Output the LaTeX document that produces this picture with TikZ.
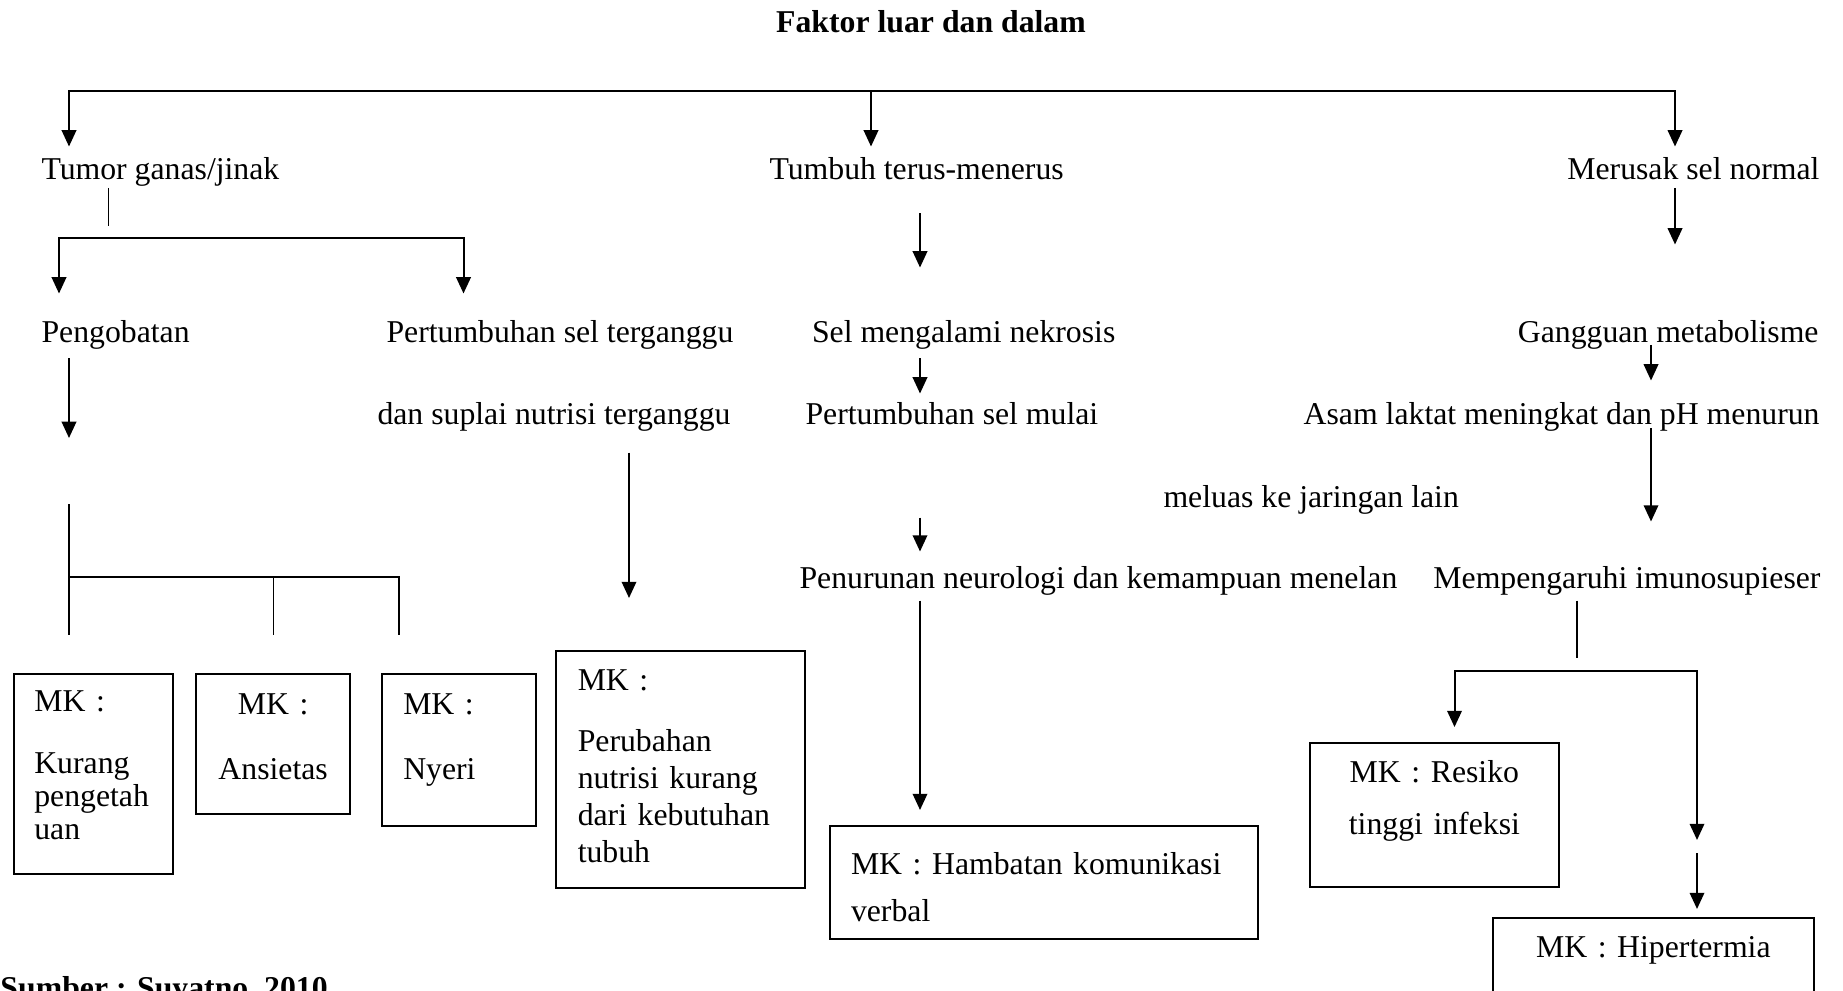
\documentclass[tikz,border=0pt]{standalone}
\usepackage{fontspec}
\setmainfont{Liberation Serif}
\usepackage{tikz}
\usetikzlibrary{arrows.meta}

\newcommand{\ukuran}{\fontsize{12.7pt}{14.8pt}\selectfont}

\begin{document}
\begin{tikzpicture}[%
		x=0.4pt,y=-0.4pt,
		panah/.style={-{Triangle[length=6.5pt,width=5.8pt]},line width=0.8pt},
		panahdua/.style={{Triangle[length=6.5pt,width=5.8pt]}-{Triangle[length=6.5pt,width=5.8pt]},line width=0.8pt},
		garis/.style={line width=0.5pt},
		teks/.style={inner sep=0pt,text height=9pt,text depth=3pt,font=\ukuran},
		mk/.style={draw,line width=0.8pt,anchor=north west,inner ysep=0pt}]
		\useasboundingbox (0,0) rectangle (1843,991);
		\node[teks,anchor=base,font=\ukuran\bfseries] (judul) at (931,33) {Faktor luar dan dalam};
		\node[teks,anchor=base west] (tumor) at (41,180) {Tumor ganas/jinak};
		\node[teks,anchor=base west] (tumbuh) at (769,180) {Tumbuh terus-menerus};
		\node[teks,anchor=base east] (merusak) at (1820,180) {Merusak sel normal};
		\node[teks,anchor=base west] (pengobatan) at (41,343) {Pengobatan};
		\node[teks,anchor=base west] (pertumbuhan) at (386,343) {Pertumbuhan sel terganggu};
		\node[teks,anchor=base west] (nekrosis) at (811.5,343) {Sel mengalami nekrosis};
		\node[teks,anchor=base east] (gangguan) at (1819,343) {Gangguan metabolisme};
		\node[teks,anchor=base west] (suplai) at (377,425) {dan suplai nutrisi terganggu};
		\node[teks,anchor=base west] (mulai) at (805,425) {Pertumbuhan sel mulai};
		\node[teks,anchor=base east] (asam) at (1820,425) {Asam laktat meningkat dan pH menurun};
		\node[teks,anchor=base west] (meluas) at (1163,507) {meluas ke jaringan lain};
		\node[teks,anchor=base west] (penurunan) at (799,588) {Penurunan neurologi dan kemampuan menelan};
		\node[teks,anchor=base east] (mempengaruhi) at (1821,588) {Mempengaruhi imunosupieser};
		\node[teks,anchor=base west,font=\ukuran\bfseries] (sumber) at (0,998) {Sumber : Suyatno, 2010};

		\node[mk,text width=47.1pt,inner xsep=8.24pt,text height=15.2pt,text depth=65pt,align=left,
			font=\fontsize{12.7pt}{13.2pt}\selectfont] (kurang) at (12.7,672.7) {MK :\\[11.7pt]Kurang\\pengetah\\uan};
		\node[mk,text width=53.7pt,inner xsep=4pt,text height=16.2pt,text depth=40pt,align=center,
			font=\fontsize{12.7pt}{13.2pt}\selectfont] (ansietas) at (195,672.7) {MK :\\[12.8pt]Ansietas};
		\node[mk,text width=44.6pt,inner xsep=8.5pt,text height=16.2pt,text depth=44.7pt,align=left,
			font=\fontsize{12.7pt}{13.2pt}\selectfont] (nyeri) at (381,672.7) {MK :\\[12.8pt]Nyeri};
		\node[mk,text width=82pt,inner xsep=8.7pt,text height=16.1pt,text depth=78.9pt,align=left,
			font=\fontsize{12.7pt}{14.8pt}\selectfont] (perubahan) at (555,649.5)
			{MK :\\[9.6pt]Perubahan\\\makebox[\linewidth][s]{nutrisi kurang}\\\makebox[\linewidth][s]{dari kebutuhan}\\tubuh};
		\node[mk,text width=154.3pt,inner xsep=8.4pt,text height=19.3pt,text depth=26pt,align=left,
			font=\fontsize{12.7pt}{18.7pt}\selectfont] (hambatan) at (829,825)
			{\makebox[\linewidth][s]{MK : Hambatan komunikasi}\\verbal};
		\node[mk,text width=91.5pt,inner xsep=4pt,text height=15.8pt,text depth=41.7pt,align=center,
			font=\fontsize{12.7pt}{20.6pt}\selectfont] (resiko) at (1309,742.3) {MK : Resiko\\tinggi infeksi};
		\node[mk,text width=120.5pt,inner xsep=4pt,text height=15.9pt,text depth=60pt,align=center,
			font=\ukuran] (hipertermia) at (1491.7,917) {MK : Hipertermia};

		\coordinate (busL) at (69,90.7);
		\coordinate (busM) at (871,90.7);
		\coordinate (busR) at (1675,90.7);
		\coordinate (stubT) at (108.5,226);
		\coordinate (cabL) at (59,238);
		\coordinate (cabR) at (463.5,238);
		\coordinate (pohon) at (69,504);
		\coordinate (cab) at (69,577);
		\coordinate (cabN) at (399,577);
		\coordinate (kolN) at (629,0);
		\coordinate (kolM) at (920,0);
		\coordinate (kolK) at (1651,0);
		\coordinate (stubM) at (1577,658);
		\coordinate (cabK) at (1454.5,671);
		\coordinate (cabH) at (1697,671);
		\coordinate (hip) at (1697,846.5);

		\draw[panahdua,shorten <=4.2pt,shorten >=4.2pt] (tumor.north -| busL) |- (busR) -- (merusak.north -| busR);
		\draw[panah,shorten >=4.2pt] (busM) -- (tumbuh.north -| busM);
		\draw[garis] (tumor.south -| stubT) -- (stubT);
		\draw[panahdua,shorten <=10.6pt,shorten >=10.6pt] (pengobatan.north -| cabL) |- (cabR) -- (pertumbuhan.north -| cabR);
		\draw[panah,shorten <=3pt,shorten >=26.4pt] (pengobatan.south -| pohon) -- (pohon);
		\draw[garis,shorten >=15.1pt] (pohon) -- (kurang.north -| pohon);
		\draw[garis,shorten >=15.1pt] (cab) -| (nyeri.north -| cabN);
		\draw[garis,shorten >=15.1pt] (cab -| ansietas.north) -- (ansietas.north);
		\draw[panah,shorten <=7.8pt,shorten >=20.6pt] (suplai.south -| kolN) -- (perubahan.north -| kolN);
		\draw[panah,shorten <=10.2pt,shorten >=21pt] (tumbuh.south -| kolM) -- (nekrosis.north -| kolM);
		\draw[panah,shorten <=3pt,shorten >=3.4pt] (nekrosis.south -| kolM) -- (mulai.north -| kolM);
		\draw[panah,shorten <=33.8pt,shorten >=5.4pt] (mulai.south -| kolM) -- (penurunan.north -| kolM);
		\draw[panah,shorten <=1.8pt,shorten >=6pt] (penurunan.south -| kolM) -- (hambatan.north -| kolM);
		\draw[panah,shorten >=30.2pt] (merusak.south -| busR) -- (gangguan.north -| busR);
		\draw[panah,shorten <=0.8pt,shorten >=8.6pt] (gangguan.base -| kolK) -- (asam.north -| kolK);
		\draw[panah,shorten <=1.2pt,shorten >=17.4pt] (asam.base -| kolK) -- (mempengaruhi.north -| kolK);
		\draw[garis,shorten <=1.8pt] (mempengaruhi.south -| stubM) -- (stubM);
		\draw[panahdua,shorten <=6.1pt,shorten >=2.6pt] (resiko.north -| cabK) |- (cabH) -- (hip);
		\draw[panah,shorten <=2.6pt,shorten >=3.2pt] (hip) -- (hipertermia.north -| hip);
	\end{tikzpicture}
\end{document}
